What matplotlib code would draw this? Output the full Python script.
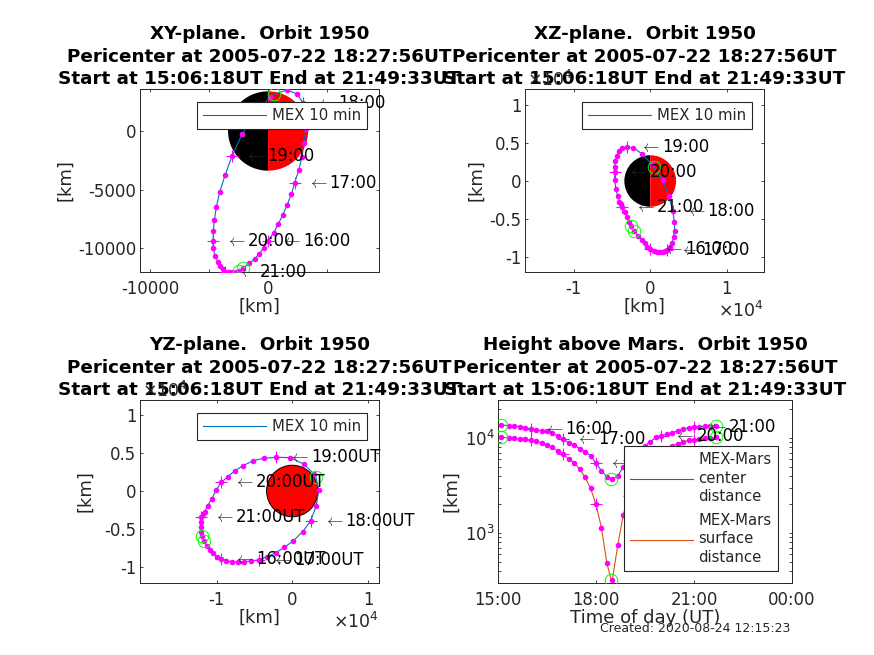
import matplotlib
matplotlib.use('Agg')
import matplotlib.pyplot as plt
import numpy as np
from matplotlib.patches import Wedge, Circle
from matplotlib.ticker import NullFormatter

plt.rcParams['font.family'] = 'DejaVu Sans'
plt.rcParams['axes.unicode_minus'] = False

W, H = 874, 655
R_MARS = 3390

times = ['15:06', '15:20', '15:30', '15:40', '15:50', '16:00', '16:10', '16:20', '16:30', '16:40', '16:50',
         '17:00', '17:10', '17:20', '17:30', '17:40', '17:50', '18:00', '18:10', '18:20', '18:28', '18:30',
         '18:40', '18:50', '19:00', '19:10', '19:20', '19:30', '19:40', '19:50', '20:00', '20:10', '20:20',
         '20:30', '20:40', '20:50', '21:00', '21:10', '21:20', '21:30', '21:40']
x_km = [-2120, -1580, -1130, -735, -365, 0, 480, 850, 1240, 1610, 1980,
        2260, 2600, 2880, 3050, 3190, 3165, 2940, 2460, 1610, 480, 200,
        -1075, -2200, -3050, -3645, -4095, -4380, -4550, -4630, -4660, -4660, -4490,
        -4265, -4040, -3840, -3670, -3335, -3050, -2740, -2470]
y_km = [-11710, -11310, -10915, -10490, -9975, -9375, -8690, -7980, -7180, -6330, -5385,
        -4420, -3335, -2195, -1055, 140, 1370, 2420, 3160, 3505, 3135, 2935,
        1510, -285, -2140, -3790, -5215, -6500, -7610, -8520, -9375, -10030, -10660,
        -11170, -11540, -11830, -12030, -12055, -12055, -12030, -11930]
z_km = [-6540, -7245, -7770, -8210, -8650, -9000, -9175, -9305, -9350, -9305, -9175,
        -9090, -8650, -8120, -7420, -6540, -5355, -3950, -1975, 130, 1800, 2195,
        3555, 4390, 4435, 4300, 3950, 3335, 2635, 1890, 1140, 130, -1095,
        -1930, -2720, -3030, -3380, -4040, -4740, -5355, -5925]
center_km = [13700, 13480, 13375, 13150, 12830, 12440, 12140, 11935, 11765, 11205, 10495,
             9690, 8925, 8440, 7715, 7175, 6510, 5415, 4530, 3915, 3700, 3700,
             4010, 4915, 5870, 6790, 7740, 8300, 9140, 10170, 10570, 10940, 11290,
             11935, 12440, 12740, 12960, 13150, 13280, 13375, 13480]
surface_km = [10170, 10000, 9930, 9760, 9690, 9530, 9300, 8795, 8440, 7980, 7350,
              6735, 6010, 5495, 4685, 3860, 2955, 2005, 1137, 480, 320, 322,
              748, 1548, 2453, 3400, 4350, 5120, 5860, 6490, 7140, 7670, 8230,
              8720, 9140, 9410, 9630, 9800, 9930, 10050, 10170]

hour_labels = ['16:00', '17:00', '18:00', '19:00', '20:00', '21:00']
key_times = ['15:06', '18:28', '21:40']

title_lines = ['XY-plane.  Orbit 1950', 'XZ-plane.  Orbit 1950', 'YZ-plane.  Orbit 1950',
               'Height above Mars.  Orbit 1950']
title_tail = 'Pericenter at 2005-07-22 18:27:56UT\nStart at 15:06:18UT End at 21:49:33UT'

times = np.array(times)
hours = np.array([int(t[:2]) + int(t[3:]) / 60 for t in times])
x_km, y_km, z_km = np.array(x_km), np.array(y_km), np.array(z_km)
center_km, surface_km = np.array(center_km), np.array(surface_km)
is_dot = np.array([t[3:] != '28' for t in times])
is_hour = np.isin(times, hour_labels)
is_key = np.isin(times, key_times)

BLUE = '#0072BD'
ORANGE = '#D95319'
MAGENTA = '#FF00FF'
DARK = '#262626'
FS = 11.9
LABEL_FS = 13

fig = plt.figure(figsize=(W / 100, H / 100), dpi=100)


def px_axes(l, t, r, b):
    ax = fig.add_axes([l / W, 1 - b / H, (r - l) / W, (b - t) / H])
    ax.tick_params(which='both', direction='in', top=True, right=True, length=2.4, width=0.6,
                   color=DARK, labelcolor=DARK, labelsize=FS)
    ax.tick_params(axis='x', which='both', pad=6)
    ax.tick_params(axis='y', which='both', pad=2.5)
    for s in ax.spines.values():
        s.set_linewidth(0.7)
        s.set_color(DARK)
    return ax


def draw_orbit(ax, a, b, color=BLUE):
    line, = ax.plot(a, b, color=color, lw=0.8, zorder=2)
    ax.plot(a[is_dot], b[is_dot], 'o', color=MAGENTA, ms=4.0, mew=0, zorder=3)
    ax.plot(a[is_hour], b[is_hour], '+', color=MAGENTA, ms=9.2, mew=0.8, zorder=3)
    ax.plot(a[is_key], b[is_key], 'o', mfc='none', mec='#00FF00', ms=9, mew=0.7, zorder=3)
    return line


def hour_text(ax, a, b, suffix=''):
    for u, v, t in zip(a[is_hour], b[is_hour], times[is_hour]):
        ax.annotate(r'$\leftarrow$', (u, v), xytext=(13, 0), textcoords='offset pixels',
                    va='center', ha='left', fontsize=FS, color=DARK, zorder=4,
                    math_fontfamily='cm', annotation_clip=False)
        ax.annotate(t + suffix, (u, v), xytext=(35, 0), textcoords='offset pixels',
                    va='center', ha='left', fontsize=FS, color='black', zorder=4,
                    annotation_clip=False)


def mars(ax, r, halves=True):
    if halves:
        ax.add_patch(Wedge((0, 0), r, 90, 270, fc='black', ec='none', zorder=1))
        ax.add_patch(Wedge((0, 0), r, -90, 90, fc='red', ec='none', zorder=1))
    else:
        ax.add_patch(Circle((0, 0), r, fc='red', ec='black', lw=0.7, zorder=1))


def px_legend(ax, handles, labels, l, t, r, b):
    leg = ax.legend(handles, labels, loc='upper left', mode='expand', borderaxespad=0,
                    bbox_to_anchor=(l / W, 1 - b / H, (r - l) / W, (b - t) / H),
                    bbox_transform=fig.transFigure, fancybox=False, framealpha=1,
                    edgecolor=DARK, fontsize=10.7, handlelength=4.2, handletextpad=0.4,
                    labelcolor=DARK, borderpad=0.42, labelspacing=0.55)
    leg.get_frame().set_linewidth(0.8)
    leg.set_zorder(6)
    for t_ in leg.get_texts():
        t_.set_linespacing(1.3)


def titles(ax, head):
    ax.set_title(head + '\n' + title_tail, fontsize=13.2, fontweight='bold', pad=3.5, linespacing=1.31)


def offset_text(ax, px_x, px_y, ha='left'):
    fig.text(px_x / W, 1 - px_y / H, r'$\times10^{4}$', fontsize=12.5, color=DARK, ha=ha, va='center')


# XY
ax1 = px_axes(140, 89, 379, 272)
mars(ax1, R_MARS)
h = draw_orbit(ax1, x_km, y_km)
hour_text(ax1, x_km, y_km)
ax1.set_xlim(-10850, 9400)
ax1.set_ylim(-12050, 3590)
ax1.set_xticks([-10000, -5000, 0, 5000])
ax1.set_xticklabels(['-10000', '', '0', ''])
ax1.set_yticks([-10000, -5000, 0])
ax1.set_xlabel('[km]', fontsize=LABEL_FS, color=DARK, labelpad=-0.5)
ax1.set_ylabel('[km]', fontsize=LABEL_FS, color=DARK)
ax1.yaxis.set_label_coords((74 - 140) / 239, 0.5)
titles(ax1, title_lines[0])
px_legend(ax1, [h], ['MEX 10 min'], 197, 102, 367, 128)

# XZ
ax2 = px_axes(525, 89, 764, 272)
mars(ax2, R_MARS / 1e4)
h = draw_orbit(ax2, x_km / 1e4, z_km / 1e4)
hour_text(ax2, x_km / 1e4, z_km / 1e4)
ax2.set_xlim(-1.64, 1.49)
ax2.set_ylim(-1.197, 1.21)
ax2.set_xticks([-1, 0, 1])
ax2.set_yticks([-1, -0.5, 0, 0.5, 1])
ax2.set_xticklabels(['-1', '0', '1'])
ax2.set_yticklabels(['-1', '-0.5', '0', '0.5', '1'])
ax2.set_xlabel('[km]', fontsize=LABEL_FS, color=DARK, labelpad=-0.5)
ax2.set_ylabel('[km]', fontsize=LABEL_FS, color=DARK)
ax2.yaxis.set_label_coords((485 - 525) / 239, 0.5)
titles(ax2, title_lines[1])
px_legend(ax2, [h], ['MEX 10 min'], 582, 102, 752, 128)
offset_text(ax2, 527, 80)
offset_text(ax2, 764, 311, ha='right')

# YZ
ax3 = px_axes(140, 400, 379, 583)
mars(ax3, R_MARS / 1e4, halves=False)
h = draw_orbit(ax3, y_km / 1e4, z_km / 1e4)
hour_text(ax3, y_km / 1e4, z_km / 1e4, suffix='UT')
ax3.set_xlim(-2.01, 1.145)
ax3.set_ylim(-1.21, 1.197)
ax3.set_xticks([-1, 0, 1])
ax3.set_yticks([-1, -0.5, 0, 0.5, 1])
ax3.set_xticklabels(['-1', '0', '1'])
ax3.set_yticklabels(['-1', '-0.5', '0', '0.5', '1'])
ax3.set_xlabel('[km]', fontsize=LABEL_FS, color=DARK, labelpad=-0.5)
ax3.set_ylabel('[km]', fontsize=LABEL_FS, color=DARK)
ax3.yaxis.set_label_coords((94 - 140) / 239, 0.5)
titles(ax3, title_lines[2])
px_legend(ax3, [h], ['MEX 10 min'], 197, 413, 367, 439)
offset_text(ax3, 142, 391)
offset_text(ax3, 379, 622, ha='right')

# height
ax4 = px_axes(498, 400, 792, 583)
h1 = draw_orbit(ax4, hours, center_km)
h2 = draw_orbit(ax4, hours, surface_km, color=ORANGE)
hour_text(ax4, hours, center_km)
ax4.set_yscale('log')
ax4.set_xlim(15, 24)
ax4.set_ylim(298, 25100)
ax4.set_xticks([15, 18, 21, 24])
ax4.set_xticklabels(['15:00', '18:00', '21:00', '00:00'])
ax4.yaxis.set_minor_formatter(NullFormatter())
ax4.set_xlabel('Time of day (UT)', fontsize=LABEL_FS, color=DARK, labelpad=-0.5)
ax4.set_ylabel('[km]', fontsize=LABEL_FS, color=DARK)
ax4.yaxis.set_label_coords((460 - 498) / 294, 0.5)
titles(ax4, title_lines[3])
px_legend(ax4, [h1, h2], ['MEX-Mars\ncenter\ndistance', 'MEX-Mars\nsurface\ndistance'], 624, 446, 778, 570)

fig.text(600 / W, 1 - 628 / H, 'Created: 2020-08-24 12:15:23', fontsize=9, color=DARK, va='center')

fig.savefig('out.png', dpi=100)
